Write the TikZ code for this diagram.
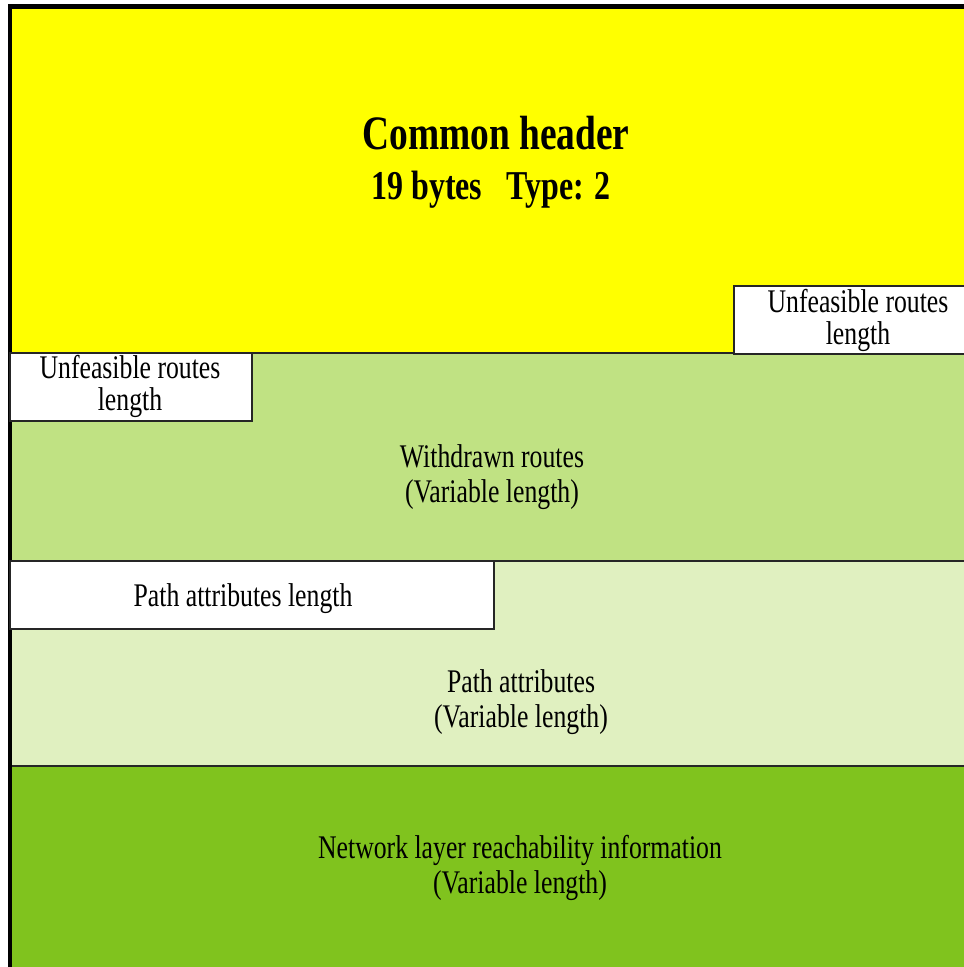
\documentclass[tikz,border=0pt]{standalone}
\usepackage{fontspec}
\setmainfont[FakeStretch=0.78]{Liberation Serif}
\definecolor{hdryellow}{HTML}{FFFF00}
\definecolor{wdgreen}{HTML}{C0E283}
\definecolor{pagreen}{HTML}{E0F0C0}
\definecolor{nlgreen}{HTML}{80C31E}
\begin{document}
\begin{tikzpicture}[x=1pt,y=-1pt,
  field/.style={draw=black!85, line width=1.8pt},
  lenbox/.style={field, fill=white},
  lbl/.style={align=center, inner sep=0pt, font=\fontsize{33}{35}\selectfont},
  smalllbl/.style={align=center, inner sep=0pt, font=\fontsize{33}{32}\selectfont},
  hdrlbl/.style={inner sep=0pt, anchor=base, font=\bfseries\fontsize{48}{50}\selectfont},
  sublbl/.style={inner sep=0pt, anchor=base, font=\bfseries\fontsize{41}{50}\selectfont}]
\useasboundingbox (0,0) rectangle (964,967);
\clip (0,0) rectangle (964,967);
\fill[white] (0,0) rectangle (964,967);

% message fields, top to bottom
\fill[hdryellow] (10,6) rectangle (990,353);
\draw[field, fill=wdgreen] (10,353) rectangle (990,561);
\draw[field, fill=pagreen] (10,561) rectangle (990,766);
\draw[field, fill=nlgreen] (10,766) rectangle (990,990);
\draw[black, line width=4.5pt] (10,990) -- (10,6.5) -- (990,6.5);

% length fields
\draw[lenbox] (734,286) rectangle (990,354);
\draw[lenbox] (10,353) rectangle (252,421);
\draw[lenbox] (10,561) rectangle (494,629);

% labels
\node[hdrlbl] (hdr) at (496,149) {Common header};
\node[sublbl] (hdrsub) at (491,199) {19 bytes\hspace{24pt}Type: 2};
\node[smalllbl] (urlA) at (858,320) {Unfeasible routes\\length};
\node[smalllbl] (urlB) at (130,386) {Unfeasible routes\\length};
\node[lbl] (wd) at (492,477) {Withdrawn routes\\(Variable length)};
\node[lbl, anchor=base] (pal) at (243,606) {Path attributes length};
\node[lbl] (pa) at (521,702) {Path attributes\\(Variable length)};
\node[lbl] (nlri) at (520,868) {Network layer reachability information\\(Variable length)};
\end{tikzpicture}
\end{document}
